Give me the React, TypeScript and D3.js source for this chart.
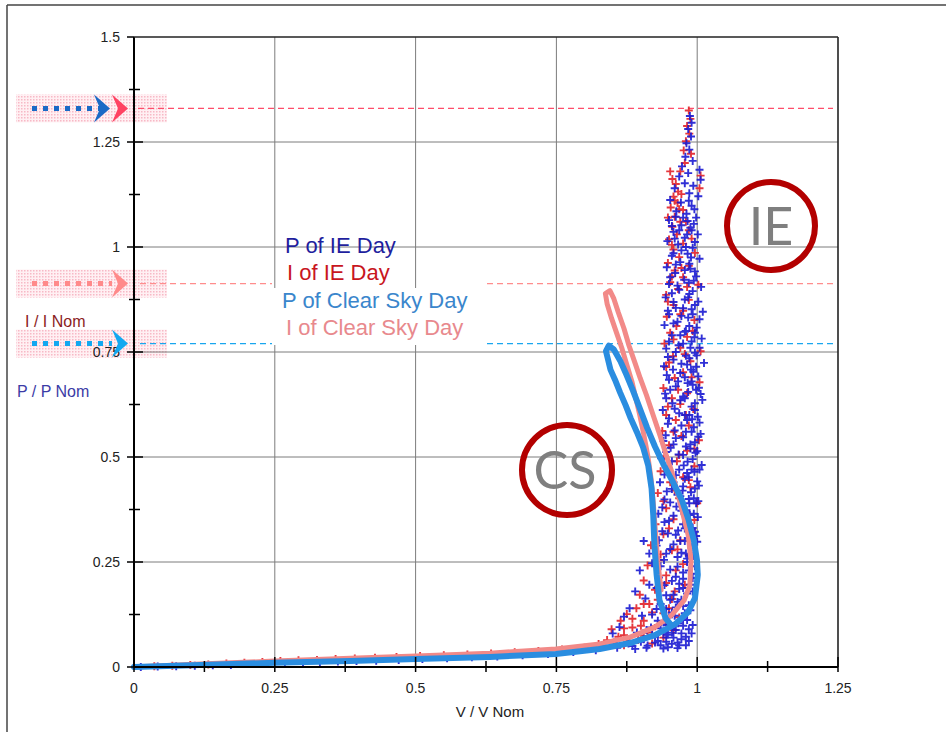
import React from 'react';
import * as d3 from 'd3';

const xTicks = [0, 0.25, 0.5, 0.75, 1, 1.25];
const xTickLabels = ['0', '0.25', '0.5', '0.75', '1', '1.25'];
const yTicks = [0, 0.25, 0.5, 0.75, 1, 1.25, 1.5];
const yTickLabels = ['0', '0.25', '0.5', '0.75', '1', '1.25', '1.5'];
const xMinor = [0.125, 0.375, 0.625, 0.875, 1.125];
const yMinor = [0.125, 0.375, 0.625, 0.875, 1.125, 1.375];
const refLevels = [1.33, 0.913, 0.77];
const seriesNames = ['P of IE Day', 'I of IE Day', 'P of Clear Sky Day', 'I of Clear Sky Day'];

const csDayP: number[][] = [
  [0, 0], [0.117, 0.005], [0.25, 0.01], [0.384, 0.014], [0.501, 0.019], [0.632, 0.024],
  [0.749, 0.031], [0.827, 0.043], [0.881, 0.057], [0.925, 0.076], [0.961, 0.102],
  [0.984, 0.131], [0.996, 0.164], [1.001, 0.219], [0.9996, 0.254], [0.994, 0.302],
  [0.985, 0.349], [0.973, 0.397], [0.957, 0.44], [0.941, 0.48], [0.925, 0.525],
  [0.911, 0.57], [0.898, 0.616], [0.886, 0.658], [0.875, 0.694], [0.863, 0.73],
  [0.852, 0.756], [0.843, 0.765], [0.838, 0.752], [0.842, 0.73], [0.846, 0.708],
  [0.854, 0.684], [0.863, 0.654], [0.873, 0.623], [0.882, 0.592], [0.893, 0.559],
  [0.904, 0.523], [0.913, 0.48], [0.919, 0.425], [0.922, 0.361], [0.924, 0.29],
  [0.928, 0.219], [0.933, 0.159], [0.944, 0.116], [0.955, 0.098],
];

const csDayI: number[][] = [
  [0, 0], [0.117, 0.007], [0.25, 0.014], [0.384, 0.021], [0.501, 0.026], [0.632, 0.033],
  [0.749, 0.043], [0.827, 0.055], [0.881, 0.071], [0.925, 0.095], [0.955, 0.124],
  [0.977, 0.159], [0.987, 0.195], [0.989, 0.254], [0.984, 0.314], [0.973, 0.373],
  [0.964, 0.42], [0.955, 0.464], [0.945, 0.504], [0.934, 0.551], [0.922, 0.599],
  [0.91, 0.647], [0.899, 0.687], [0.888, 0.73], [0.879, 0.765], [0.87, 0.806],
  [0.86, 0.844], [0.852, 0.877], [0.845, 0.896], [0.837, 0.889], [0.84, 0.865],
  [0.848, 0.83], [0.857, 0.795], [0.866, 0.76], [0.875, 0.72], [0.884, 0.68],
  [0.891, 0.64], [0.898, 0.6], [0.905, 0.555], [0.912, 0.505], [0.918, 0.45],
  [0.922, 0.39], [0.926, 0.32], [0.93, 0.25], [0.936, 0.183],
];

const ieDayP: number[][] = [
  [0.987, 1.312], [0.99, 1.296], [0.984, 1.281], [0.989, 1.263], [0.981, 1.247], [0.986, 1.232],
  [0.979, 1.215], [0.992, 1.205], [1.004, 1.184], [0.973, 1.192], [0.984, 1.176], [1.006, 1.16],
  [0.968, 1.168], [0.978, 1.152], [0.993, 1.146], [0.96, 1.14], [0.986, 1.128], [1.002, 1.121],
  [0.952, 1.112], [0.971, 1.106], [0.99, 1.098], [0.963, 1.085], [0.981, 1.079], [0.998, 1.07],
  [0.95, 1.064], [0.972, 1.052], [0.988, 1.046], [0.958, 1.036], [1.001, 1.03], [0.978, 1.022],
  [0.947, 1.014], [0.966, 1.006], [0.992, 0.998], [0.983, 0.984], [0.955, 0.979], [1.004, 0.972],
  [0.97, 0.964], [0.946, 0.952], [0.988, 0.948], [0.961, 0.938], [0.998, 0.93], [0.977, 0.922],
  [0.95, 0.912], [1.007, 0.905], [0.968, 0.898], [0.986, 0.888], [0.944, 0.88], [0.958, 0.869],
  [0.996, 0.862], [0.975, 0.854], [1.01, 0.846], [0.95, 0.84], [0.984, 0.832], [0.965, 0.822],
  [0.942, 0.814], [0.999, 0.808], [0.978, 0.798], [0.955, 0.79], [1.008, 0.782], [0.99, 0.775],
  [0.967, 0.766], [0.945, 0.758], [0.996, 0.748], [0.98, 0.741], [0.958, 0.732], [1.012, 0.724],
  [0.941, 0.716], [0.989, 0.708], [0.97, 0.7], [1.002, 0.692], [0.95, 0.684], [0.983, 0.676],
  [0.962, 0.668], [0.998, 0.66], [0.943, 0.651], [0.975, 0.644], [1.009, 0.636], [0.956, 0.628],
  [0.99, 0.62], [0.939, 0.612], [0.968, 0.604], [1.001, 0.596], [0.982, 0.588], [0.948, 0.579],
  [0.994, 0.571], [0.96, 0.563], [1.006, 0.555], [0.975, 0.547], [0.94, 0.538], [0.988, 0.53],
  [0.953, 0.522], [1.0, 0.514], [0.967, 0.506], [0.936, 0.497], [0.983, 0.489], [1.008, 0.481],
  [0.948, 0.472], [0.995, 0.465], [0.962, 0.457], [0.978, 0.448], [0.934, 0.44], [1.003, 0.432],
  [0.955, 0.424], [0.989, 0.416], [0.97, 0.407], [0.942, 0.399], [0.998, 0.39], [0.963, 0.382],
  [0.981, 0.373], [0.931, 0.365], [1.001, 0.357], [0.95, 0.348], [0.975, 0.34], [0.992, 0.331],
  [0.938, 0.323], [0.962, 0.315], [0.985, 0.306], [1.0, 0.298], [0.928, 0.289], [0.952, 0.281],
  [0.972, 0.272], [0.993, 0.264], [0.941, 0.255], [0.92, 0.247], [0.965, 0.239], [0.985, 0.23],
  [0.998, 0.222], [0.932, 0.213], [0.955, 0.205], [0.915, 0.196], [0.975, 0.188], [0.992, 0.18],
  [0.945, 0.171], [0.908, 0.163], [0.965, 0.155], [0.985, 0.147], [0.928, 0.138], [0.955, 0.13],
  [0.902, 0.122], [0.975, 0.114], [0.94, 0.106], [0.992, 0.1], [0.918, 0.094], [0.962, 0.088],
  [0.893, 0.082], [0.948, 0.077], [0.98, 0.072], [0.905, 0.066], [0.93, 0.062], [0.965, 0.058],
  [0.878, 0.056], [0.912, 0.051], [0.948, 0.047], [0.858, 0.046], [0.89, 0.043],
  [0.995, 0.785], [0.999, 0.742], [0.993, 0.703], [1.003, 0.665], [0.996, 0.628], [0.991, 0.59],
  [1.002, 0.548], [0.997, 0.51], [0.99, 0.47], [1.0, 0.442], [0.994, 0.402], [0.987, 0.362],
  [0.996, 0.322], [0.99, 0.284], [0.982, 0.25], [0.996, 0.24], [0.975, 0.21], [0.968, 0.186],
  [0.958, 0.172], [0.972, 0.16], [0.962, 0.142], [0.978, 0.128], [0.95, 0.118], [0.966, 0.104],
  [0.985, 0.09], [0.955, 0.092], [0.972, 0.08], [0.94, 0.082], [0.958, 0.07], [0.985, 0.062],
  [0.925, 0.072], [0.945, 0.06], [0.968, 0.052], [0.935, 0.052], [0.988, 0.196], [0.98, 0.27],
  [0.97, 0.3], [0.978, 0.33], [0.986, 0.39], [0.974, 0.42], [0.985, 0.452], [0.976, 0.48],
  [0.988, 0.52], [0.98, 0.56], [0.986, 0.6], [0.978, 0.64], [0.99, 0.68], [0.982, 0.72],
  [0.988, 0.76], [0.98, 0.8], [0.992, 0.84], [0.984, 0.88], [0.994, 0.92], [0.986, 0.96],
  [0.98, 1.0], [0.99, 1.04], [0.975, 1.07], [0.985, 1.11],
  [0.995, 1.09], [0.962, 1.072], [0.983, 1.062], [0.955, 1.05], [0.994, 1.055], [0.968, 1.04],
  [0.982, 1.03], [0.96, 1.02], [0.996, 1.012], [0.972, 0.992], [0.958, 0.985], [0.989, 0.975],
  [0.962, 0.958], [0.978, 0.945], [0.996, 0.942], [0.952, 0.928], [0.985, 0.915], [0.965, 0.908],
  [0.992, 0.895], [0.955, 0.89], [0.978, 0.875], [1.002, 0.87], [0.962, 0.855], [0.99, 0.852],
  [0.948, 0.848], [0.972, 0.836], [1.004, 0.828], [0.958, 0.818], [0.986, 0.812], [0.97, 0.79],
  [0.996, 0.796], [0.95, 0.775], [0.975, 0.77], [1.004, 0.76], [0.962, 0.75], [0.986, 0.735],
  [0.948, 0.738], [0.972, 0.722], [0.998, 0.715], [0.957, 0.708], [0.978, 0.69], [0.946, 0.695],
  [0.992, 0.672], [0.966, 0.68], [0.952, 0.66], [0.984, 0.655], [1.006, 0.65], [0.97, 0.635],
  [0.945, 0.64], [0.996, 0.612], [0.96, 0.615], [0.978, 0.6], [0.95, 0.592], [1.004, 0.582],
  [0.972, 0.575], [0.99, 0.56], [0.944, 0.552], [0.962, 0.545], [0.996, 0.535], [0.98, 0.525],
  [0.958, 0.53], [0.945, 0.512], [0.975, 0.505], [0.992, 0.495], [0.955, 0.49], [1.004, 0.47],
  [0.968, 0.47], [0.982, 0.462], [0.942, 0.458], [0.958, 0.44], [0.996, 0.425], [0.975, 0.43],
  [0.946, 0.418], [0.965, 0.41], [0.985, 0.4], [1.002, 0.395], [0.952, 0.392], [0.938, 0.38],
  [0.972, 0.372], [0.994, 0.365], [0.958, 0.36], [0.942, 0.345], [0.985, 0.34], [0.966, 0.325],
  [0.998, 0.312], [0.948, 0.318], [0.932, 0.302], [0.978, 0.3], [0.958, 0.292], [0.99, 0.285],
  [0.945, 0.27], [0.965, 0.262], [0.982, 0.258], [0.935, 0.24], [0.952, 0.232], [0.975, 0.225],
  [0.992, 0.212], [0.962, 0.215], [0.942, 0.195], [0.928, 0.188], [0.968, 0.198], [0.982, 0.175],
  [0.952, 0.16], [0.935, 0.15], [0.975, 0.145], [0.988, 0.135], [0.945, 0.138], [0.92, 0.125],
  [0.96, 0.122], [0.982, 0.112], [0.93, 0.11], [0.948, 0.1], [0.975, 0.098], [0.91, 0.088],
  [0.935, 0.092], [0.955, 0.082], [0.99, 0.08], [0.92, 0.076], [0.945, 0.07], [0.972, 0.066],
  [0.9, 0.06], [0.925, 0.058], [0.955, 0.055], [0.98, 0.052], [0.885, 0.05], [0.91, 0.046],
  [0.94, 0.044], [0.965, 0.045],
  [0.905, 0.3], [0.915, 0.27], [0.898, 0.23], [0.89, 0.18], [0.88, 0.14], [0.87, 0.12],
  [0.862, 0.095], [0.85, 0.08],
  [0.82, 0.04], [0.78, 0.036], [0.735, 0.031], [0.69, 0.028], [0.645, 0.025], [0.6, 0.023],
  [0.556, 0.021], [0.512, 0.019], [0.47, 0.017], [0.43, 0.015], [0.395, 0.014], [0.362, 0.013],
  [0.33, 0.011], [0.3, 0.01], [0.268, 0.009], [0.236, 0.008], [0.205, 0.007], [0.172, 0.005],
  [0.14, 0.004], [0.108, 0.003], [0.075, 0.002], [0.042, 0.001], [0.012, 0.0],
];

const ieDayI: number[][] = [
  [0.985, 1.325], [0.988, 1.305], [0.982, 1.288], [0.986, 1.27], [0.98, 1.252], [0.976, 1.23],
  [0.989, 1.222], [0.952, 1.18], [0.956, 1.162], [1.006, 1.17], [1.004, 1.14], [0.962, 1.15],
  [0.966, 1.132], [0.958, 1.12], [0.972, 1.126], [0.965, 1.105], [0.953, 1.094], [0.975, 1.088],
  [0.96, 1.072], [0.97, 1.06], [0.956, 1.048], [0.985, 1.04], [0.964, 1.03], [0.95, 1.018],
  [0.975, 1.008], [0.958, 0.994], [0.996, 0.986], [0.968, 0.976], [0.948, 0.962], [0.985, 0.955],
  [0.96, 0.944], [0.975, 0.928], [0.952, 0.916], [1.002, 0.91], [0.966, 0.9], [0.945, 0.886],
  [0.985, 0.874], [0.958, 0.862], [0.975, 0.848], [0.946, 0.834], [0.995, 0.826], [0.963, 0.812],
  [0.952, 0.796], [0.982, 0.786], [0.942, 0.77], [0.97, 0.76], [1.006, 0.752], [0.957, 0.74],
  [0.988, 0.728], [0.945, 0.714], [0.975, 0.702], [0.96, 0.688], [1.004, 0.678], [0.94, 0.664],
  [0.982, 0.652], [0.955, 0.64], [0.97, 0.626], [0.993, 0.614], [0.945, 0.6], [0.962, 0.588],
  [0.985, 0.575], [0.938, 0.562], [0.972, 0.55], [1.003, 0.54], [0.95, 0.528], [0.982, 0.515],
  [0.942, 0.502], [0.964, 0.49], [0.995, 0.478], [0.935, 0.466], [0.975, 0.452], [0.952, 0.44],
  [0.988, 0.428], [0.93, 0.414], [0.968, 0.402], [1.0, 0.39], [0.945, 0.378], [0.98, 0.364],
  [0.958, 0.352], [0.926, 0.34], [0.99, 0.328], [0.94, 0.316], [0.97, 0.302], [0.918, 0.29],
  [0.955, 0.278], [0.985, 0.266], [0.932, 0.254], [0.912, 0.242], [0.962, 0.23], [0.945, 0.218],
  [0.905, 0.206], [0.978, 0.196], [0.925, 0.184], [0.898, 0.172], [0.955, 0.162], [0.915, 0.15],
  [0.892, 0.14], [0.94, 0.128], [0.875, 0.126], [0.968, 0.118], [0.905, 0.11], [0.864, 0.11],
  [0.93, 0.1], [0.885, 0.094], [0.848, 0.09], [0.958, 0.088], [0.912, 0.082], [0.87, 0.076],
  [0.94, 0.07], [0.895, 0.064], [0.852, 0.058], [0.92, 0.056], [0.87, 0.052], [0.832, 0.05],
  [0.978, 1.2], [0.97, 1.18], [0.96, 1.11], [0.948, 1.07], [0.968, 1.09], [0.98, 1.06],
  [0.955, 1.005], [0.99, 1.02], [0.972, 0.95], [0.955, 0.93], [0.982, 0.905], [0.948, 0.87],
  [0.97, 0.84], [0.992, 0.8], [0.958, 0.78], [0.978, 0.745], [0.95, 0.725], [0.99, 0.69],
  [0.966, 0.66], [0.948, 0.62], [0.98, 0.6], [0.958, 0.56], [0.995, 0.52], [0.968, 0.505],
  [0.948, 0.47], [0.985, 0.445], [0.96, 0.42], [0.94, 0.395], [0.975, 0.38], [0.995, 0.35],
  [0.95, 0.33], [0.965, 0.28], [0.935, 0.268], [0.975, 0.245], [0.945, 0.2], [0.96, 0.18],
  [0.93, 0.16], [0.905, 0.15], [0.95, 0.14], [0.92, 0.13], [0.885, 0.115], [0.945, 0.108],
  [0.9, 0.098], [0.87, 0.092], [0.92, 0.09], [0.86, 0.072], [0.905, 0.074], [0.84, 0.064],
  [0.88, 0.062], [0.825, 0.055],
  [0.8, 0.046], [0.76, 0.042], [0.718, 0.038], [0.676, 0.035], [0.634, 0.032], [0.592, 0.03],
  [0.55, 0.028], [0.508, 0.026], [0.466, 0.024], [0.428, 0.022], [0.392, 0.02], [0.358, 0.019],
  [0.325, 0.017], [0.292, 0.016], [0.26, 0.014], [0.228, 0.012], [0.196, 0.01], [0.164, 0.008],
  [0.132, 0.006], [0.1, 0.005], [0.068, 0.003], [0.036, 0.002],
];

const seriesColors = ['#1a1ad2', '#e3262d', '#2a8de0', '#f28a88'];
const legendColors = ['#1f1f9e', '#c8161e', '#3a86cc', '#e8898d'];
const refColors = ['#ff4d6a', '#ff8d8d', '#1aa6ee'];

export default function App() {
  const W = 946, H = 732;
  const x = d3.scaleLinear().domain([0, 1.25]).range([134, 838]);
  const y = d3.scaleLinear().domain([0, 1.5]).range([667, 37]);
  const line = d3.line<number[]>().x(d => x(d[0])).y(d => y(d[1])).curve(d3.curveLinear);
  const plusPath = (data: number[][]) =>
    data.map(d => `M${(x(d[0]) - 4).toFixed(1)},${y(d[1]).toFixed(1)}h8M${x(d[0]).toFixed(1)},${(y(d[1]) - 4).toFixed(1)}v8`).join('');

  const font = "'Liberation Sans', Arial, sans-serif";
  const chevron = (tx: number, ty: number) => `M${tx - 16},${ty - 14}L${tx},${ty}L${tx - 16},${ty + 14}L${tx - 10},${ty}Z`;

  const x0 = x(0), x1 = x(1.25), y0 = y(0), y1 = y(1.5);
  const legendX = 274, legendRight = 486;

  return (
    <div style={{ position: 'absolute', left: 0, top: 0, width: W, height: H, background: '#fff' }}>
      <svg width={W} height={H} style={{ display: 'block' }}>
        <defs>
          <pattern id="hatch" width="3" height="3" patternUnits="userSpaceOnUse">
            <rect width="3" height="3" fill="#fff0f3" />
            <rect width="1.5" height="1.5" fill="#f7b9c6" />
          </pattern>
        </defs>
        <rect width={W} height={H} fill="#fff" />
        <line x1={7} y1={5} x2={7} y2={H} stroke="#444" strokeWidth={1.5} />
        <line x1={7} y1={5} x2={W} y2={5} stroke="#444" strokeWidth={1.5} />

        {refLevels.map((v, i) => (
          <rect key={'b' + i} x={16} y={y(v) - 14} width={151} height={28} fill="url(#hatch)" />
        ))}

        {xTicks.slice(1, -1).map(t => (
          <line key={'gx' + t} x1={x(t)} x2={x(t)} y1={y1} y2={y0} stroke="#7c7c7c" strokeWidth={1} />
        ))}
        {yTicks.slice(1, -1).map(t => (
          <line key={'gy' + t} x1={x0} x2={x1} y1={y(t)} y2={y(t)} stroke="#7c7c7c" strokeWidth={1} />
        ))}

        <line x1={138} x2={833} y1={y(refLevels[0])} y2={y(refLevels[0])} stroke={refColors[0]} strokeWidth={1.3} strokeDasharray="6 4" />
        {[1, 2].map(i => (
          <g key={'rl' + i}>
            <line x1={140} x2={272} y1={y(refLevels[i])} y2={y(refLevels[i])} stroke={refColors[i]} strokeWidth={1.3} strokeDasharray="6 4" />
            <line x1={487} x2={833} y1={y(refLevels[i])} y2={y(refLevels[i])} stroke={refColors[i]} strokeWidth={1.3} strokeDasharray="6 4" />
          </g>
        ))}

        <rect x={legendX} y={288} width={legendRight - legendX} height={57} fill="#fff" />

        <path d={plusPath(ieDayI)} stroke={seriesColors[1]} strokeWidth={1.9} fill="none" opacity={0.92} />
        <path d={plusPath(ieDayP)} stroke={seriesColors[0]} strokeWidth={1.9} fill="none" opacity={0.9} />
        <path d={line(csDayI) || ''} stroke={seriesColors[3]} strokeWidth={5} fill="none" strokeLinejoin="round" strokeLinecap="round" />
        <path d={line(csDayP) || ''} stroke={seriesColors[2]} strokeWidth={6} fill="none" strokeLinejoin="round" strokeLinecap="round" />

        <line x1={x0} x2={x0} y1={y1} y2={y0} stroke="#000" strokeWidth={2} />
        <line x1={x0} x2={x1} y1={y0} y2={y0} stroke="#000" strokeWidth={2} />
        <line x1={x0} x2={x1} y1={y1} y2={y1} stroke="#222" strokeWidth={1.6} />
        <line x1={x1} x2={x1} y1={y1} y2={y0} stroke="#222" strokeWidth={1.6} />
        {yTicks.map(t => (
          <line key={'ty' + t} x1={127} x2={t === 1.5 ? x0 : 143} y1={y(t)} y2={y(t)} stroke="#000" strokeWidth={1.5} />
        ))}
        {yMinor.map(t => (
          <line key={'tym' + t} x1={129} x2={140} y1={y(t)} y2={y(t)} stroke="#000" strokeWidth={1.5} />
        ))}
        {xTicks.map(t => (
          <line key={'tx' + t} x1={x(t)} x2={x(t)} y1={y0 - 10} y2={y0 + 5} stroke="#000" strokeWidth={1.5} />
        ))}
        {xMinor.map(t => (
          <line key={'txm' + t} x1={x(t)} x2={x(t)} y1={y0 - 6} y2={y0 + 5} stroke="#000" strokeWidth={1.5} />
        ))}
        {yTicks.map((t, i) => (
          <text key={'yl' + t} x={120} y={y(t) + 5} textAnchor="end" fontFamily={font} fontSize={14} fill="#222">{yTickLabels[i]}</text>
        ))}
        {xTicks.map((t, i) => (
          <text key={'xl' + t} x={x(t)} y={693} textAnchor="middle" fontFamily={font} fontSize={14} fill="#222">{xTickLabels[i]}</text>
        ))}
        <text x={490} y={717} textAnchor="middle" fontFamily={font} fontSize={15} fill="#222">V / V Nom</text>
        <text x={25} y={327} fontFamily={font} fontSize={16} fill="#8b1d1d">I / I Nom</text>
        <text x={17} y={397} fontFamily={font} fontSize={16} fill="#3b3ba6">P / P Nom</text>

        <line x1={32} x2={100} y1={y(refLevels[0])} y2={y(refLevels[0])} stroke="#1a6ac6" strokeWidth={5} strokeDasharray="5 6" />
        <path d={chevron(110, y(refLevels[0]))} fill="#1a6ac6" />
        <path d={chevron(128, y(refLevels[0]))} fill="#ff4262" />
        <line x1={32} x2={112} y1={y(refLevels[1])} y2={y(refLevels[1])} stroke="#ff8a8a" strokeWidth={5} strokeDasharray="5 6" />
        <path d={chevron(128, y(refLevels[1]))} fill="#ff8a8a" />
        <line x1={32} x2={112} y1={y(refLevels[2])} y2={y(refLevels[2])} stroke="#12a8f0" strokeWidth={5} strokeDasharray="5 6" />
        <path d={chevron(128, y(refLevels[2]))} fill="#12a8f0" />

        {seriesNames.map((n, i) => (
          <text key={'lg' + i} x={[285, 287, 282, 286][i]} y={[253, 280, 308, 335][i]} fontFamily={font} fontSize={22} fill={legendColors[i]}>{n}</text>
        ))}

        <circle cx={771} cy={226} r={44} fill="none" stroke="#b30000" strokeWidth={6} />
        <text x={771} y={245} textAnchor="middle" fontFamily="Lato, 'Open Sans', sans-serif" fontSize={52} fill="#7f7f7f">IE</text>
        <circle cx={567} cy={470} r={45} fill="none" stroke="#b30000" strokeWidth={6} />
        <text x={565} y={489} textAnchor="middle" fontFamily="Lato, 'Open Sans', sans-serif" fontSize={52} fill="#7f7f7f">CS</text>
      </svg>
    </div>
  );
}
